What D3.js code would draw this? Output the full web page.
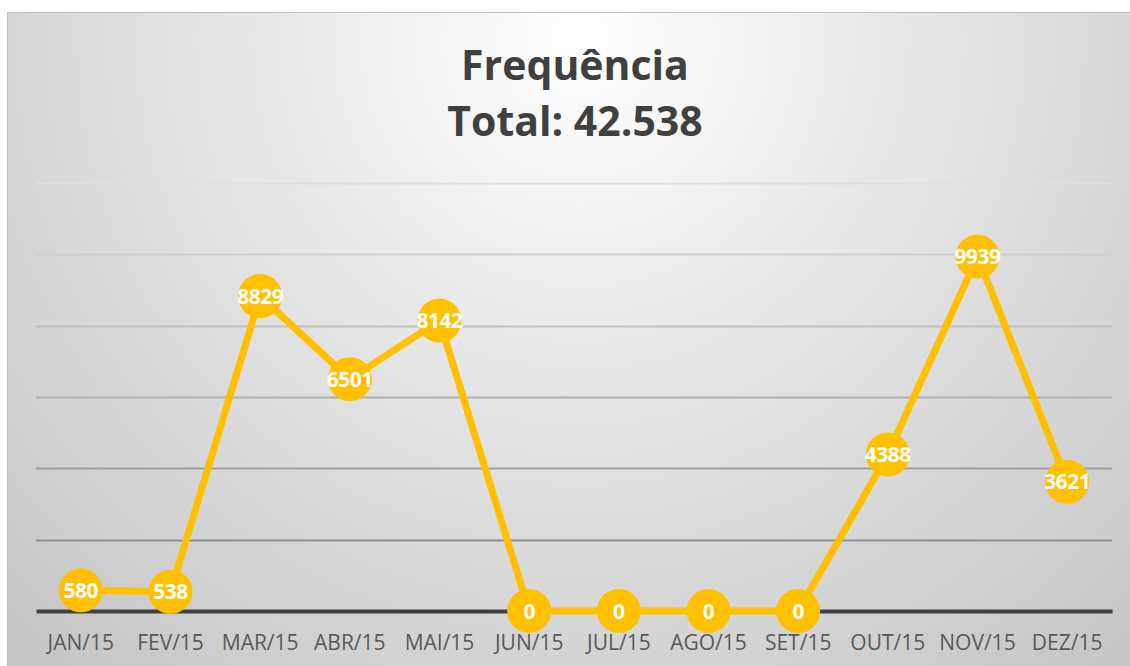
<!DOCTYPE html>
<html>
<head>
<meta charset="utf-8">
<script src="https://cdn.jsdelivr.net/npm/d3@7"></script>
<style>
  body { margin: 0; background: #fff; }
</style>
</head>
<body>
<div id="chart"></div>
<script>
// data
var months = ["JAN/15", "FEV/15", "MAR/15", "ABR/15", "MAI/15", "JUN/15",
              "JUL/15", "AGO/15", "SET/15", "OUT/15", "NOV/15", "DEZ/15"];
var freq = [580, 538, 8829, 6501, 8142, 0, 0, 0, 0, 4388, 9939, 3621];
var yTicks = [0, 2000, 4000, 6000, 8000, 10000, 12000];
var titleLines = ["Frequência", "Total: 42.538"];

var W = 1130, H = 666;
var margin = {left: 36, right: 18, top: 183, bottom: 55};

var svg = d3.select("#chart").append("svg")
    .attr("width", W)
    .attr("height", H);

var defs = svg.append("defs");
var bg = defs.append("radialGradient")
    .attr("id", "bg")
    .attr("gradientUnits", "userSpaceOnUse")
    .attr("cx", 580).attr("cy", 40).attr("r", 820);
bg.append("stop").attr("offset", "0%").attr("stop-color", "#ffffff");
bg.append("stop").attr("offset", "45%").attr("stop-color", "#e4e4e4");
bg.append("stop").attr("offset", "100%").attr("stop-color", "#c6c6c6");

var gridGrad = defs.append("linearGradient")
    .attr("id", "gridGrad")
    .attr("gradientUnits", "userSpaceOnUse")
    .attr("x1", 0).attr("y1", 180).attr("x2", 0).attr("y2", 560);
gridGrad.append("stop").attr("offset", "0%").attr("stop-color", "#e0e0e0");
gridGrad.append("stop").attr("offset", "100%").attr("stop-color", "#8c8c8c");

// chart area frame
svg.append("rect")
    .attr("x", 7.5).attr("y", 12.5)
    .attr("width", W).attr("height", H)
    .attr("fill", "url(#bg)")
    .attr("stroke", "#bdbdbd")
    .attr("stroke-width", 1);

var x = d3.scaleBand()
    .domain(months)
    .range([margin.left, W - margin.right]);

var y = d3.scaleLinear()
    .domain([0, 12000])
    .range([H - margin.bottom, margin.top]);

// gridlines
svg.append("g")
    .selectAll("line")
    .data(yTicks.slice(1))
    .enter().append("line")
    .attr("x1", margin.left)
    .attr("x2", W - margin.right)
    .attr("y1", function (d) { return Math.round(y(d)) + 0.5; })
    .attr("y2", function (d) { return Math.round(y(d)) + 0.5; })
    .attr("stroke", "url(#gridGrad)")
    .attr("stroke-width", 2);

// x axis (baseline + labels)
var xAxis = d3.axisBottom(x).tickSize(0).tickPadding(24);
var gx = svg.append("g")
    .attr("transform", "translate(0," + y(0) + ")")
    .call(xAxis);
gx.select(".domain")
    .attr("stroke", "#404040")
    .attr("stroke-width", 4);
gx.selectAll("text")
    .style("font-family", "'Open Sans', 'Noto Sans', sans-serif")
    .style("font-size", "21px")
    .attr("fill", "#595959");

// title
svg.append("g")
    .selectAll("text")
    .data(titleLines)
    .enter().append("text")
    .attr("x", 575)
    .attr("y", function (d, i) { return 80 + i * 56; })
    .attr("text-anchor", "middle")
    .style("font-family", "'Open Sans', 'Noto Sans', sans-serif")
    .style("font-weight", "bold")
    .style("font-size", "41px")
    .attr("fill", "#404040")
    .text(function (d) { return d; });

var cx = function (d, i) { return x(months[i]) + x.bandwidth() / 2; };

// line
var line = d3.line()
    .x(function (d, i) { return cx(d, i); })
    .y(function (d) { return y(d); });

svg.append("path")
    .datum(freq)
    .attr("d", line)
    .attr("fill", "none")
    .attr("stroke", "#ffc000")
    .attr("stroke-width", 7)
    .attr("stroke-linejoin", "round");

// markers
svg.append("g")
    .selectAll("circle")
    .data(freq)
    .enter().append("circle")
    .attr("cx", cx)
    .attr("cy", function (d) { return y(d); })
    .attr("r", 22)
    .attr("fill", "#ffc000");

// data labels
svg.append("g")
    .selectAll("text")
    .data(freq)
    .enter().append("text")
    .attr("x", cx)
    .attr("y", function (d) { return y(d); })
    .attr("dy", "0.36em")
    .attr("text-anchor", "middle")
    .style("font-family", "'Open Sans', 'Noto Sans', sans-serif")
    .style("font-weight", "bold")
    .style("font-size", "21px")
    .style("letter-spacing", "-0.5px")
    .attr("fill", "#ffffff")
    .text(function (d) { return d; });
</script>
</body>
</html>
